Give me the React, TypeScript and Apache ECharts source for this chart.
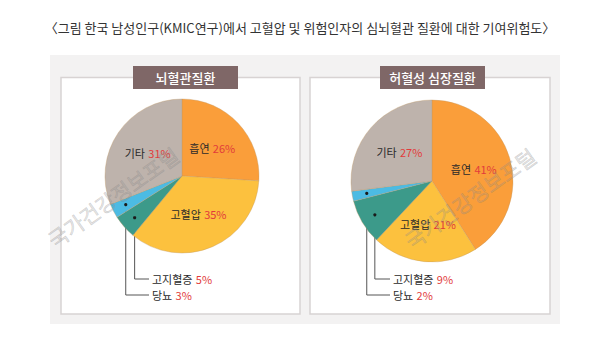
import React, { useEffect, useRef } from "react";
import * as echarts from "echarts";

const categories = ["흡연", "고혈압", "고지혈증", "당뇨", "기타"];
const strokeValues = [26, 35, 5, 3, 31];
const heartValues = [41, 21, 9, 2, 27];
const panelTitles = ["뇌혈관질환", "허혈성 심장질환"];
const chartTitlePrefix = "그림";
const chartTitleRest = " 한국 남성인구(KMIC연구)에서 고혈압 및 위험인자의 심뇌혈관 질환에 대한 기여위험도";
const watermark = "국가건강정보포털";
const sliceColors = ["#FA9E3A", "#FCC13E", "#3C9A8A", "#4CBBE3", "#BEB3AC"];

const FONT = "'Noto Sans CJK KR', 'Noto Sans', sans-serif";
const outsideIdx = [2, 3];

type PieGeom = { cx: number; cy: number; r: number; labelX: number; labelYs: number[] };
const geoms: PieGeom[] = [
  { cx: 182, cy: 176, r: 77, labelX: 152, labelYs: [279, 295] },
  { cx: 432, cy: 181, r: 81, labelX: 393, labelYs: [279, 295] },
];

function dotPoint(values: number[], idx: number, g: PieGeom) {
  const total = values.reduce((a, b) => a + b, 0);
  let before = 0;
  for (let i = 0; i < idx; i++) before += values[i];
  const frac = (before + values[idx] / 2) / total;
  const a = frac * Math.PI * 2;
  const rr = g.r * 0.82;
  return [g.cx + rr * Math.sin(a), g.cy - rr * Math.cos(a)];
}

function makeSeries(values: number[], g: PieGeom) {
  return {
    type: "pie",
    center: [g.cx, g.cy],
    radius: g.r,
    startAngle: 90,
    clockwise: true,
    silent: true,
    itemStyle: { borderColor: "rgba(190,150,100,0.6)", borderWidth: 0.6 },
    label: {
      show: true,
      position: "inside",
      formatter: "{n|{b}} {p|{c}%}",
      rich: {
        n: { fontFamily: FONT, fontSize: 11, color: "#2a2a2a" },
        p: { fontFamily: FONT, fontSize: 11, color: "#e23b3b" },
      },
    },
    labelLine: { show: false },
    labelLayout: (params: any) => {
      const k = outsideIdx.indexOf(params.dataIndex);
      if (k < 0) return {};
      const [dx, dy] = dotPoint(values, params.dataIndex, g);
      const ly = g.labelYs[k];
      return {
        x: g.labelX,
        y: ly,
        align: "left",
        verticalAlign: "middle",
        labelLinePoints: [
          [dx, dy],
          [dx, ly],
          [g.labelX - 3, ly],
        ],
      };
    },
    data: categories.map((name, i) => {
      const item: any = { name, value: values[i], itemStyle: { color: sliceColors[i] } };
      if (outsideIdx.includes(i)) {
        item.label = { position: "outside" };
        item.labelLine = { show: true, lineStyle: { color: "#555", width: 1 }, length: 5, length2: 5 };
      }
      return item;
    }),
  };
}

export default function App() {
  const ref = useRef<HTMLDivElement>(null);
  useEffect(() => {
    if (!ref.current) return;
    const chart = echarts.init(ref.current, undefined, { renderer: "svg" });
    const dots: any[] = [];
    [strokeValues, heartValues].forEach((vals, s) => {
      outsideIdx.forEach((idx) => {
        const [x, y] = dotPoint(vals, idx, geoms[s]);
        dots.push({ type: "circle", z: 10, shape: { cx: x, cy: y, r: 1.6 }, style: { fill: "#1a1a1a" } });
      });
    });
    const panels = [
      { x: 61, w: 239, boxX: 133, boxW: 105 },
      { x: 310, w: 240, boxX: 380, boxW: 105 },
    ];
    const graphic: any[] = [
      { type: "rect", z: -10, shape: { x: 50, y: 55, width: 510, height: 269 }, style: { fill: "#f3f2f2" } },
      ...panels.map((p) => ({
        type: "rect",
        z: -9,
        shape: { x: p.x, y: 77.5, width: p.w, height: 236.5 },
        style: { fill: "#ffffff", stroke: "#d8d3d3", lineWidth: 1.5 },
      })),
      ...panels.map((p, i) => ({
        type: "group",
        z: 5,
        children: [
          { type: "rect", shape: { x: p.boxX, y: 66, width: p.boxW, height: 23 }, style: { fill: "#7f6767" } },
          {
            type: "text",
            x: p.boxX + p.boxW / 2,
            y: 77.5,
            style: {
              text: panelTitles[i],
              fill: "#ffffff",
              font: `500 13px ${FONT}`,
              align: "center",
              verticalAlign: "middle",
            },
          },
        ],
      })),
      {
        type: "text",
        x: 300,
        y: 27,
        style: {
          text: `〈{r|${chartTitlePrefix}}{t|${chartTitleRest}}〉`,
          font: `13px ${FONT}`,
          fill: "#333",
          align: "center",
          verticalAlign: "middle",
          rich: {
            r: { fontFamily: FONT, fontSize: 13, color: "#e02a2a" },
            t: { fontFamily: FONT, fontSize: 13, color: "#333" },
          },
        },
      },
      ...[
        { x: 113, y: 197 },
        { x: 470, y: 198 },
      ].map((w) => ({
        type: "text",
        z: 20,
        x: w.x,
        y: w.y,
        rotation: 0.62,
        style: {
          text: watermark,
          font: `21px ${FONT}`,
          fill: "rgba(150,150,150,0.22)",
          stroke: "rgba(120,120,120,0.3)",
          lineWidth: 0.6,
          align: "center",
          verticalAlign: "middle",
        },
      })),
      ...dots,
    ];
    chart.setOption({
      animation: false,
      backgroundColor: "#ffffff",
      graphic,
      series: [makeSeries(strokeValues, geoms[0]), makeSeries(heartValues, geoms[1])],
    });
    return () => chart.dispose();
  }, []);
  return (
    <div
      ref={ref}
      style={{ position: "fixed", left: 0, top: 0, width: 600, height: 353 }}
    />
  );
}
